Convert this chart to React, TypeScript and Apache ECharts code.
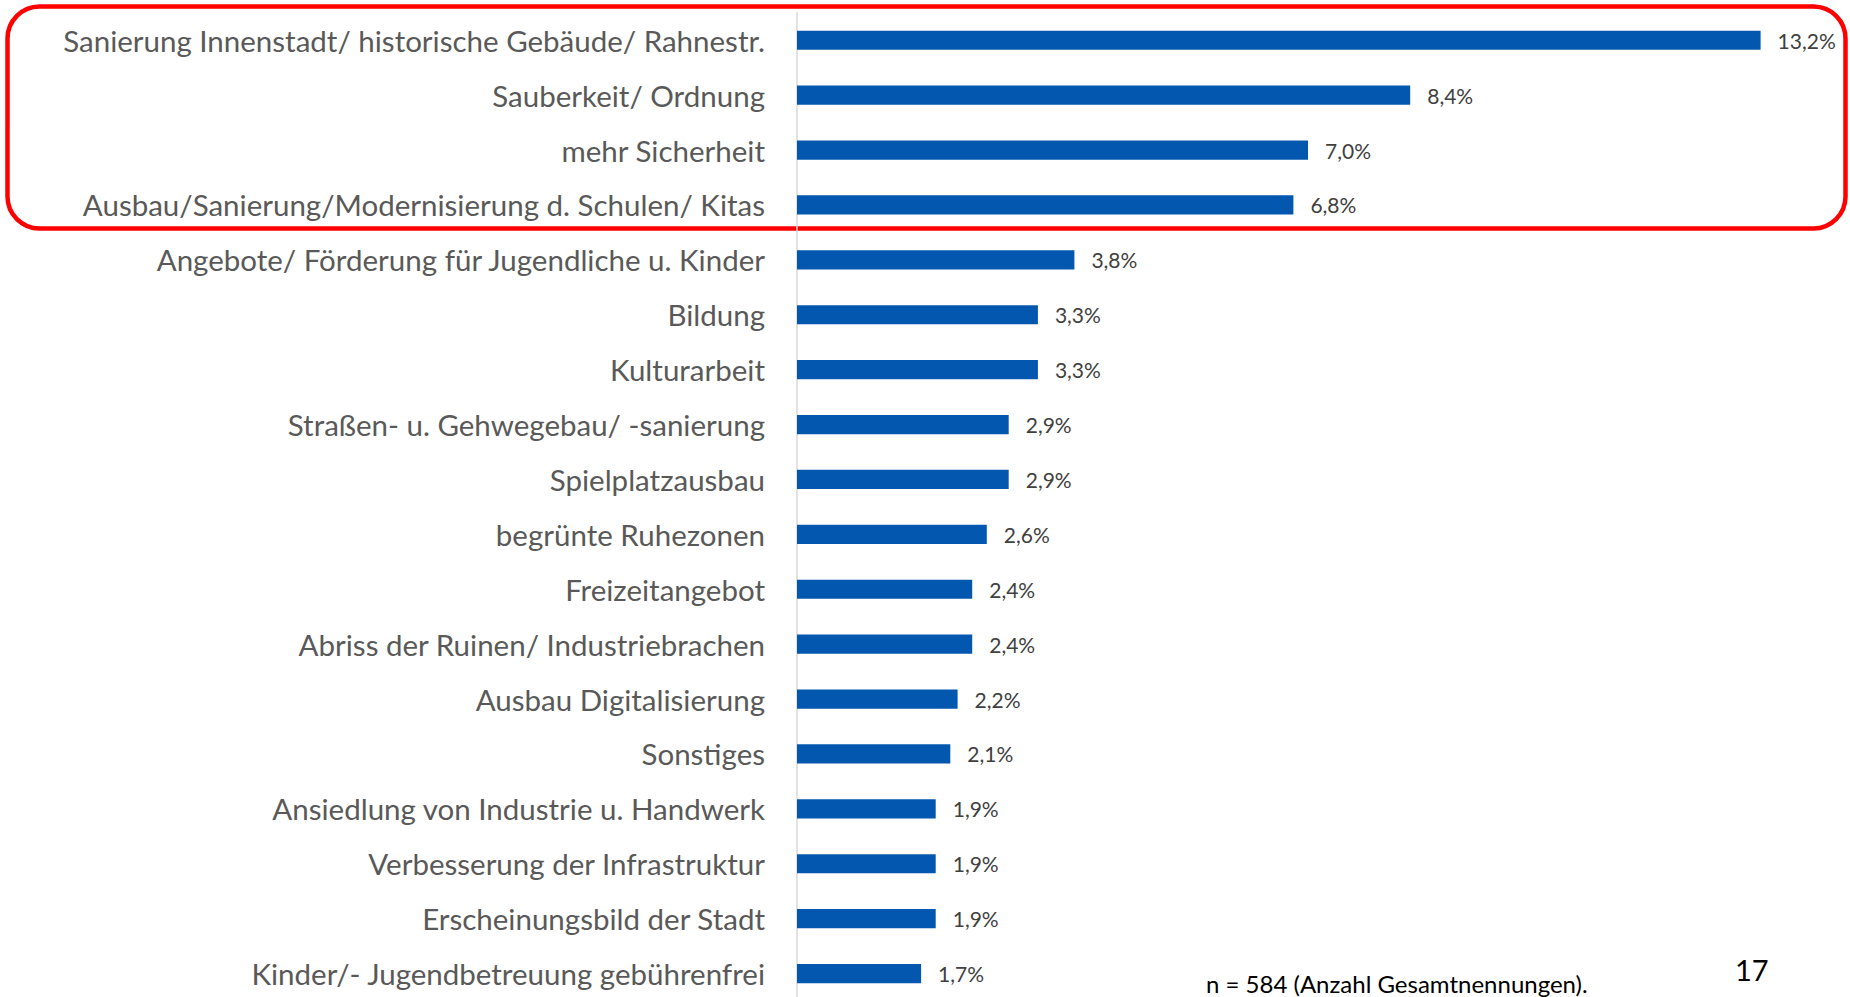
import React, { useEffect, useRef } from "react";
import * as echarts from "echarts";

const categories = [
  "Sanierung Innenstadt/ historische Gebäude/ Rahnestr.",
  "Sauberkeit/ Ordnung",
  "mehr Sicherheit",
  "Ausbau/Sanierung/Modernisierung d. Schulen/ Kitas",
  "Angebote/ Förderung für Jugendliche u. Kinder",
  "Bildung",
  "Kulturarbeit",
  "Straßen- u. Gehwegebau/ -sanierung",
  "Spielplatzausbau",
  "begrünte Ruhezonen",
  "Freizeitangebot",
  "Abriss der Ruinen/ Industriebrachen",
  "Ausbau Digitalisierung",
  "Sonstiges",
  "Ansiedlung von Industrie u. Handwerk",
  "Verbesserung der Infrastruktur",
  "Erscheinungsbild der Stadt",
  "Kinder/- Jugendbetreuung gebührenfrei",
];

const values = [13.2, 8.4, 7.0, 6.8, 3.8, 3.3, 3.3, 2.9, 2.9, 2.6, 2.4, 2.4, 2.2, 2.1, 1.9, 1.9, 1.9, 1.7];

const noteText = "n = 584 (Anzahl Gesamtnennungen).";
const pageNumber = "17";

export default function App() {
  const ref = useRef<HTMLDivElement>(null);

  useEffect(() => {
    if (!ref.current) return;
    const chart = echarts.init(ref.current, null, { renderer: "svg" });
    chart.setOption({
      animation: false,
      grid: { left: 797, right: 31, top: 12.8, bottom: 9, containLabel: false },
      xAxis: {
        type: "value",
        min: 0,
        max: 14,
        show: false,
      },
      yAxis: {
        type: "category",
        data: categories,
        inverse: true,
        axisLine: { show: true, lineStyle: { color: "#d9d9d9", width: 1.5 } },
        axisTick: { show: false },
        splitLine: { show: false },
        axisLabel: {
          fontFamily: "Lato",
          fontSize: 29.5,
          color: "#595959",
          margin: 32,
        },
      },
      series: [
        {
          type: "bar",
          data: values,
          barCategoryGap: "65%",
          itemStyle: { color: "#0457ae" },
          label: {
            show: true,
            position: "right",
            distance: 17,
            fontFamily: "Lato",
            fontSize: 21,
            color: "#404040",
            formatter: (p: any) => p.value.toFixed(1).replace(".", ",") + "%",
          },
        },
      ],
      graphic: [
        {
          type: "rect",
          shape: { x: 7.5, y: 6.5, width: 1838, height: 222, r: 32 },
          style: { fill: "none", stroke: "#ff0000", lineWidth: 4.5 },
          silent: true,
        },
        {
          type: "text",
          x: 1206,
          y: 995,
          style: {
            text: noteText,
            fontFamily: "Lato",
            fontSize: 24,
            fill: "#000000",
            textVerticalAlign: "bottom",
          },
        },
        {
          type: "text",
          x: 1735,
          y: 955,
          style: {
            text: pageNumber,
            fontFamily: "Lato",
            fontSize: 29,
            fill: "#000000",
            textVerticalAlign: "top",
          },
        },
      ],
    });
    return () => chart.dispose();
  }, []);

  return (
    <div
      style={{
        position: "absolute",
        left: 0,
        top: 0,
        width: 1850,
        height: 997,
        overflow: "hidden",
        background: "#ffffff",
      }}
    >
      <div ref={ref} style={{ width: 1850, height: 1010 }} />
    </div>
  );
}
